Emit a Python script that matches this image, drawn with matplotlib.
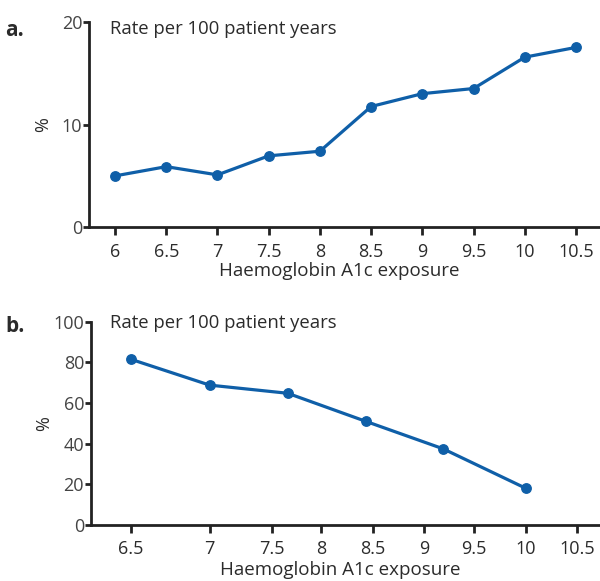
import numpy as np
import matplotlib
matplotlib.use("Agg")
import matplotlib.pyplot as plt

# ---- data ----
a_x = [6, 6.5, 7, 7.5, 8, 8.5, 9, 9.5, 10, 10.5]
a_y = [5.0, 5.9, 5.1, 6.95, 7.4, 11.75, 13.0, 13.5, 16.55, 17.5]
a_xticks = [6, 6.5, 7, 7.5, 8, 8.5, 9, 9.5, 10, 10.5]
a_yticks = [0, 10, 20]

b_x = [6.5, 7.0, 7.66, 8.43, 9.19, 10.0]
b_y = [81.5, 68.8, 64.8, 51.0, 37.5, 18.0]
b_xticks = [6.5, 7, 7.5, 8, 8.5, 9, 9.5, 10, 10.5]
b_xtick_labels = ["6.5", "7", "7.5", "8", "8.5", "9", "9.5", "10", "10.5"]
b_yticks = [0, 20, 40, 60, 80, 100]

title_text = "Rate per 100 patient years"
xlabel_text = "Haemoglobin A1c exposure"
ylabel_text = "%"

# irregular tick spacing of panel b (value -> drawing position)
b_anchor_vals = np.array([6.0, 6.5, 7, 7.5, 8, 8.5, 9, 9.5, 10, 10.5, 11.0])
b_anchor_pos = np.array([52.3, 131, 209.7, 272, 321, 373, 424, 474, 526, 577, 628])

def fwd(v):
    return np.interp(v, b_anchor_vals, b_anchor_pos)

def inv(p):
    return np.interp(p, b_anchor_pos, b_anchor_vals)

plt.rcParams['font.family'] = ['Open Sans', 'DejaVu Sans']
LINE = '#0f5fa8'
TXT = '#2b2b2b'

W, H = 600, 581
fig = plt.figure(figsize=(W / 100, H / 100), dpi=100)

def ax_rect(l, t, r, b):
    return [l / W, 1 - b / H, (r - l) / W, (b - t) / H]

def style(ax):
    for s in ['top', 'right']:
        ax.spines[s].set_visible(False)
    for s in ['left', 'bottom']:
        ax.spines[s].set_linewidth(2.0)
        ax.spines[s].set_color('#222222')
        ax.spines[s].set_capstyle('projecting')
    ax.tick_params(axis='x', length=6, width=2.0, color='#222222', pad=5,
                   labelsize=13, labelcolor=TXT)
    ax.tick_params(axis='y', length=4, width=2.0, color='#222222', pad=1,
                   labelsize=13, labelcolor='#444444')

# panel a
ax1 = fig.add_axes(ax_rect(89.3, 21.7, 600, 227.3))
ax1.plot(a_x, a_y, color=LINE, lw=2.3, marker='o', ms=6.8, clip_on=False)
ax1.set_xlim(5.749, 10.734)
ax1.set_ylim(0, 20)
ax1.set_xticks(a_xticks)
ax1.set_xticklabels([f"{v:g}" for v in a_xticks])
ax1.set_yticks(a_yticks)
style(ax1)
ax1.set_xlabel(xlabel_text, fontsize=13.5, color=TXT, labelpad=2)
ax1.xaxis.set_label_coords(0.49, -0.17)
ax1.set_ylabel(ylabel_text, fontsize=13, color=TXT, labelpad=7)
ax1.text(110 / W, 1 - 29 / H, title_text, transform=fig.transFigure,
         fontsize=13.3, color=TXT, va='center', ha='left')
fig.text(5 / W, 1 - 30 / H, "a.", fontsize=15, fontweight='bold', color=TXT,
         va='center', ha='left')

# panel b
ax2 = fig.add_axes(ax_rect(91, 321.7, 600, 525))
ax2.set_xscale('function', functions=(fwd, inv))
ax2.plot(b_x, b_y, color=LINE, lw=2.3, marker='o', ms=6.8, clip_on=False)
ax2.set_xlim(6.246, 10.725)
ax2.set_ylim(0, 100)
ax2.set_xticks(b_xticks)
ax2.set_xticklabels(b_xtick_labels)
ax2.minorticks_off()
ax2.set_yticks(b_yticks)
style(ax2)
ax2.set_xlabel(xlabel_text, fontsize=13.5, color=TXT, labelpad=1)
ax2.xaxis.set_label_coords(0.49, -0.175)
ax2.set_ylabel(ylabel_text, fontsize=13, color=TXT, labelpad=0)
fig.text(110 / W, 1 - 323 / H, title_text, fontsize=13.3, color=TXT,
         va='center', ha='left')
fig.text(5 / W, 1 - 326 / H, "b.", fontsize=15, fontweight='bold', color=TXT,
         va='center', ha='left')

fig.savefig("out.png", dpi=100)
